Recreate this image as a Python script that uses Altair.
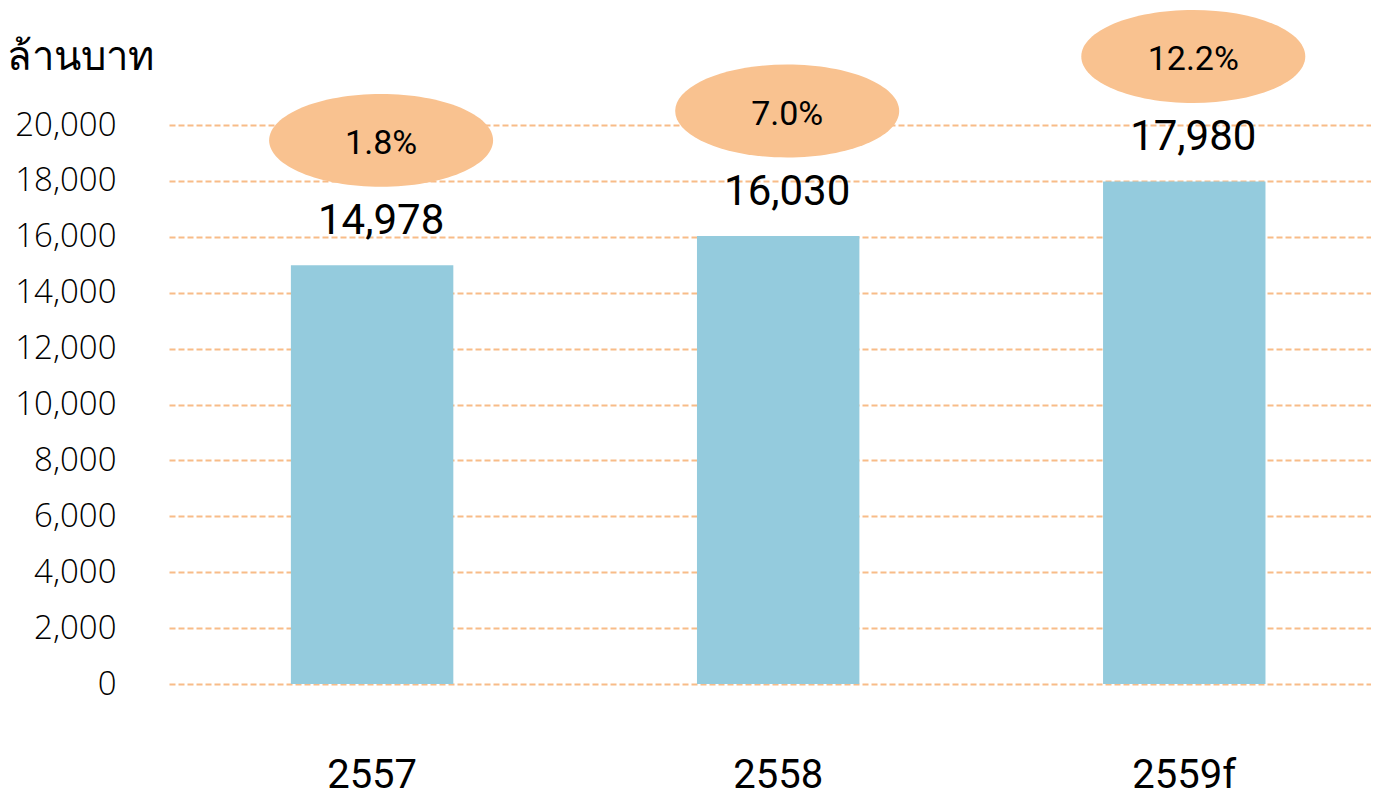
import altair as alt
import pandas as pd

years = ["2557", "2558", "2559f"]
values = [14978, 16030, 17980]
value_labels = ["14,978", "16,030", "17,980"]
growth_labels = ["1.8%", "7.0%", "12.2%"]
y_ticks = [0, 2000, 4000, 6000, 8000, 10000, 12000, 14000, 16000, 18000, 20000]

df = pd.DataFrame({"year": years, "value": values, "vlabel": value_labels, "glabel": growth_labels})

NARROW = "Roboto, Noto Sans, sans-serif"
ELLIPSE = "M-1,0A1,0.415,0,1,1,1,0A1,0.415,0,1,1,-1,0Z"

x = alt.X("year:N", sort=years,
          scale=alt.Scale(paddingInner=0.6, paddingOuter=0.28, align=0.536),
          axis=alt.Axis(title=None, labelAngle=0, domain=False, ticks=False,
                        labelFont=NARROW, labelFontSize=40, labelColor="#000000",
                        labelPadding=71))

base = alt.Chart(df)

bars = base.mark_bar(color="#94CBDD").encode(
    x=x,
    y=alt.Y("value:Q", scale=alt.Scale(domain=[0, 20000], nice=False),
            axis=alt.Axis(values=y_ticks, labelExpr="format(datum.value, ',.0f')",
                          domain=False, ticks=False,
                          labelFont="Open Sans, Noto Sans, sans-serif", labelFontWeight=300,
                          labelFontSize=33, labelColor="#000000", labelPadding=53,
                          gridColor="#F8BC88", gridDash=[6, 3], gridWidth=2,
                          title="ล้านบาท", titleAngle=0, titleAlign="left",
                          titleBaseline="alphabetic", titleX=-163, titleY=-56,
                          titleFont=NARROW, titleFontSize=40, titleFontWeight="normal",
                          titleColor="#000000")),
)

vtext = base.mark_text(font=NARROW, fontSize=42, color="#000000",
                       baseline="middle", dy=-44, dx=9).encode(
    x=x, y="value:Q", text="vlabel:N")

ell = base.mark_point(shape=ELLIPSE, size=224 * 224, filled=True, opacity=1,
                      color="#F9C290", strokeWidth=0, yOffset=-125, xOffset=9).encode(
    x=x, y="value:Q")

gtext = base.mark_text(font=NARROW, fontSize=34, color="#000000",
                       baseline="middle", dy=-121, dx=9).encode(
    x=x, y="value:Q", text="glabel:N")

chart = alt.layer(bars, vtext, ell, gtext).properties(
    width=1202, height=559,
    autosize=alt.AutoSizeParams(type="none"),
    padding={"left": 161, "top": 117, "right": 0, "bottom": 113},
    background="white",
).configure_view(stroke=None)

chart.save("out.html", embed_options={"renderer": "svg", "actions": False})
